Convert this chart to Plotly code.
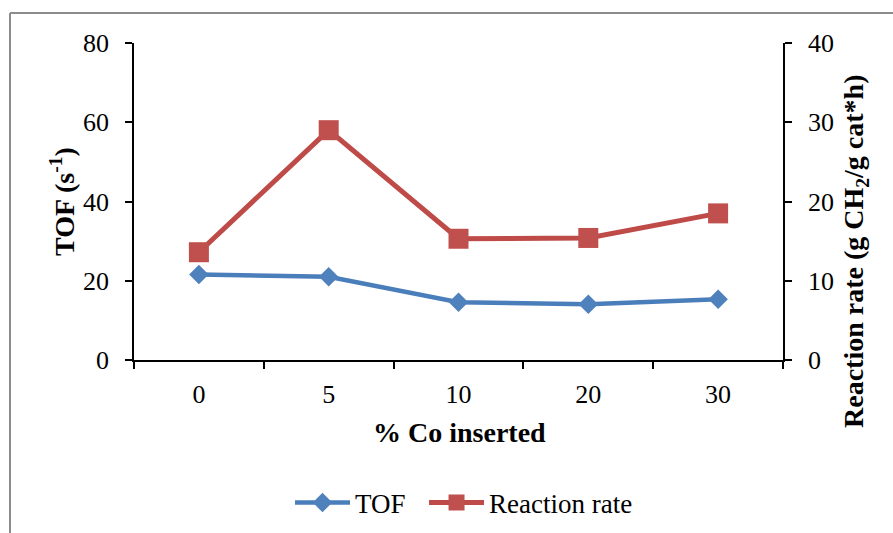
import plotly.graph_objects as go

# Catalyst series: % Co inserted
categories = ["0", "5", "10", "20", "30"]
tof = [21.6, 21.0, 14.6, 14.1, 15.3]            # TOF, s^-1 (left axis)
reaction_rate = [13.6, 29.0, 15.3, 15.4, 18.5]  # g CH2 / g cat*h (right axis)

left_ticks = [0, 20, 40, 60, 80]
right_ticks = [0, 10, 20, 30, 40]

SERIF = '"Liberation Serif", "Times New Roman", Times, serif'
BLUE = "#4A7EBB"
RED = "#BE4B48"

fig = go.Figure()
fig.add_trace(go.Scatter(
    # two no-break spaces widen the gap before the next legend entry
    x=categories, y=tof, name="TOF\u00a0\u00a0", mode="lines+markers",
    line=dict(color=BLUE, width=4.5),
    marker=dict(symbol="diamond", size=15, color="#4F81BD"),
    yaxis="y",
))
fig.add_trace(go.Scatter(
    x=categories, y=reaction_rate, name="Reaction rate", mode="lines+markers",
    line=dict(color=RED, width=5),
    marker=dict(symbol="square", size=20, color="#C0504D"),
    yaxis="y2",
))

axis_common = dict(
    showline=True, linecolor="black", linewidth=1.6,
    ticks="outside", ticklen=7, tickwidth=1.6, tickcolor="black",
    showgrid=False, zeroline=False,
    tickfont=dict(family=SERIF, size=26, color="black"),
)

fig.update_layout(
    width=893, height=533,
    margin=dict(l=134, r=110, t=43, b=173),
    paper_bgcolor="white", plot_bgcolor="white",
    font=dict(family=SERIF, color="black"),
    xaxis=dict(type="category", range=[-0.5, 4.5], tickson="boundaries",
               ticklabelstandoff=10, **axis_common),
    yaxis=dict(range=[0, 80], tickvals=left_ticks, ticklabelstandoff=11,
               **axis_common),
    yaxis2=dict(range=[0, 40], tickvals=right_ticks, overlaying="y", side="right",
                ticklabelstandoff=11, **axis_common),
    showlegend=True,
    legend=dict(orientation="h", xref="container", yref="container",
                x=290 / 893, xanchor="left", y=(533 - 503) / 533, yanchor="middle",
                font=dict(family=SERIF, size=27, color="black"),
                bgcolor="rgba(0,0,0,0)", itemwidth=55),
)

title_font = dict(family=SERIF, size=28, color="black")
fig.add_annotation(text="<b>% Co inserted</b>", xref="paper", yref="paper",
                   x=(459 - 134) / 649, y=(360 - 433) / 317,
                   xanchor="center", yanchor="middle",
                   showarrow=False, font=title_font)
fig.add_annotation(text="<b>TOF (s<sup>-1</sup>)</b>", xref="paper", yref="paper",
                   x=(62 - 134) / 649, y=(360 - 202) / 317,
                   xanchor="center", yanchor="middle", textangle=-90,
                   showarrow=False, font=title_font)
fig.add_annotation(text="<b>Reaction rate (g CH<sub>2</sub>/g cat*h)</b>",
                   xref="paper", yref="paper",
                   x=(856 - 134) / 649, y=(360 - 251) / 317,
                   xanchor="center", yanchor="middle", textangle=-90,
                   showarrow=False, font=title_font)

# Chart-area frame (left and top edges)
fig.add_shape(type="line", xref="paper", yref="paper",
              x0=(10 - 134) / 649, x1=(10 - 134) / 649,
              y0=(360 - 13) / 317, y1=(360 - 540) / 317,
              line=dict(color="#8C8C8C", width=2))
fig.add_shape(type="line", xref="paper", yref="paper",
              x0=(10 - 134) / 649, x1=(900 - 134) / 649,
              y0=(360 - 13) / 317, y1=(360 - 13) / 317,
              line=dict(color="#8C8C8C", width=2))

fig.write_html("out.html")
